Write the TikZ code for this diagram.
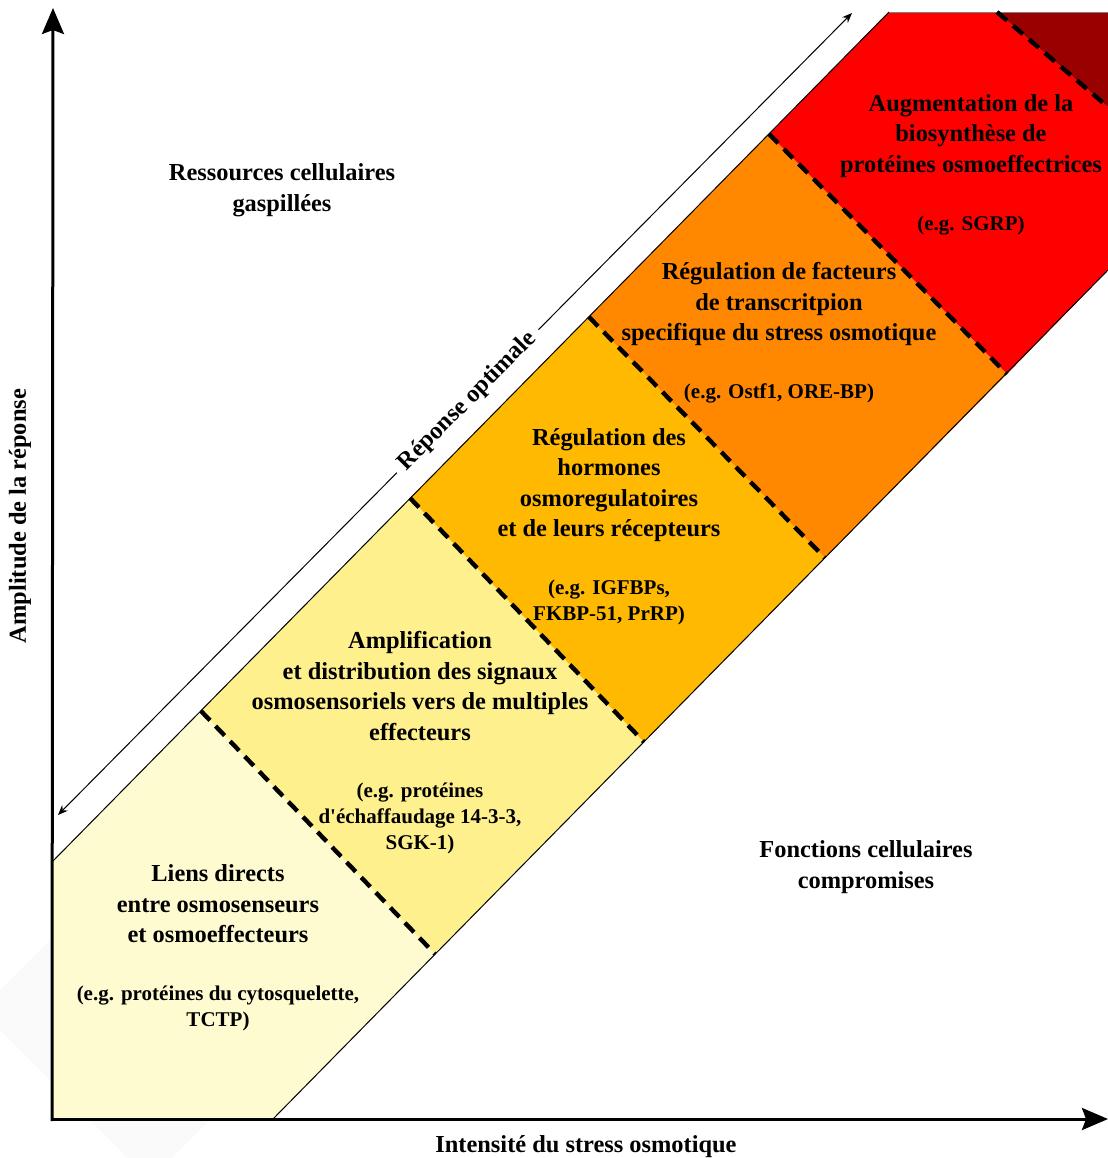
\documentclass[tikz,border=0pt]{standalone}
\usepackage{fontspec}
\setmainfont{Liberation Serif}[Ligatures=TeXOff]
\usetikzlibrary{positioning, arrows.meta}
\definecolor{zoneA}{HTML}{FFFBD0}
\definecolor{zoneB}{HTML}{FFF08E}
\definecolor{zoneC}{HTML}{FFB900}
\definecolor{zoneD}{HTML}{FF8800}
\definecolor{zoneE}{HTML}{FF0000}
\definecolor{zoneF}{HTML}{990000}
\tikzset{
x=0.5pt, y=-0.5pt, % one unit is one pixel of the figure
axis/.style={line width=1.5pt, -{Stealth[length=13pt, width=11pt, inset=2pt]}}, % the two axes
border/.style={line width=0.5pt}, % edges of the band
limit/.style={line width=2.2pt, dash pattern=on 6.5pt off 4pt}, % borders between the zones
title/.style={font=\bfseries\fontsize{12.2}{15.25}\selectfont, align=center},
example/.style={font=\bfseries\fontsize{10.5}{13}\selectfont, align=center},
}
\begin{document}
\begin{tikzpicture}
  \useasboundingbox (0,0) rectangle (1108,1158);

  % faint mark in the corner
  \fill[black!2] (150,840) -- (320,1010) -- (150,1180) -- (-20,1010) -- cycle;

  % Band
  \coordinate (up0) at (52,862);
  \coordinate (top) at (889,12);
  \coordinate (tr) at (1108,12);
  \coordinate (rt) at (1108,270);
  \coordinate (lo0) at (273,1119);
  \coordinate (origin) at (52,1119);
  \coordinate (u1) at (201,711);  \coordinate (l1) at (435,954);
  \coordinate (u2) at (410,498);  \coordinate (l2) at (644,742);
  \coordinate (u3) at (589,317);  \coordinate (l3) at (825,558);
  \coordinate (u4) at (769,134);  \coordinate (l4) at (1007,374);
  \coordinate (u5) at (997,12);   \coordinate (l5) at (1108,107);

  \fill[zoneA] (up0) -- (u1) -- (l1) -- (lo0) -- (origin) -- cycle;
  \fill[zoneB] (u1) -- (u2) -- (l2) -- (l1) -- cycle;
  \fill[zoneC] (u2) -- (u3) -- (l3) -- (l2) -- cycle;
  \fill[zoneD] (u3) -- (u4) -- (l4) -- (l3) -- cycle;
  \fill[zoneE] (u4) -- (top) -- (u5) -- (l5) -- (rt) -- (l4) -- cycle;
  \fill[zoneF] (u5) -- (tr) -- (l5) -- cycle;

  \draw[border] (up0) -- (top);
  \draw[border] (lo0) -- (rt);
  \draw[border, gray] (top) -- (tr);
  \foreach \i in {1,...,5}
    \draw[limit] (u\i) -- (l\i);

  % Axes
  \coordinate (ytip) at (53,8);
  \coordinate (xtip) at (1108,1119);
  \coordinate (corner) at (52,1121);
  \draw[axis] (corner) -- (ytip);
  \draw[axis] (origin) -- (xtip);
  \node[title] (xlabel) at (586,1147) {Intensité du stress osmotique};
  \node[title, rotate=90] (ylabel) at (20,516) {Amplitude de la réponse};

  % Optimal response
  \coordinate (opta) at (58,815);
  \coordinate (optb) at (852,13);
  \draw[line width=0.5pt, {Stealth[length=5pt, width=4pt]}-{Stealth[length=5pt, width=4pt]}]
    (opta) -- node[title, sloped, pos=0.516, fill=white, inner sep=4pt] (optlabel) {Réponse optimale} (optb);

  % Outside the band
  \node[title] (waste) at (282,190) {Ressources cellulaires\\gaspillées};
  \node[title] (damage) at (866,867) {Fonctions cellulaires\\compromises};

  % Zones
  \node[title] (zoneAt) at (218,904) {Liens directs\\entre osmosenseurs\\et osmoeffecteurs};
  \node[example] (zoneAe) at (218,1008) {(e.g. protéines du cytosquelette,\\TCTP)};
  \node[title] (zoneBt) at (420,686) {Amplification\\et distribution des signaux\\osmosensoriels vers de multiples\\effecteurs};
  \node[example] (zoneBe) at (420,818) {(e.g. protéines\\d'échaffaudage 14-3-3,\\SGK-1)};
  \node[title] (zoneCt) at (609,485) {Régulation des\\hormones\\osmoregulatoires\\et de leurs récepteurs};
  \node[example] (zoneCe) at (609,602) {(e.g. IGFBPs,\\FKBP-51, PrRP)};
  \node[title] (zoneDt) at (779,304) {Régulation de facteurs\\de transcritpion\\specifique du stress osmotique};
  \node[example] (zoneDe) at (779,393) {(e.g. Ostf1, ORE-BP)};
  \node[title] (zoneEt) at (971,136) {Augmentation de la\\biosynthèse de\\protéines osmoeffectrices};
  \node[example] (zoneEe) at (971,226) {(e.g. SGRP)};
\end{tikzpicture}
\end{document}
